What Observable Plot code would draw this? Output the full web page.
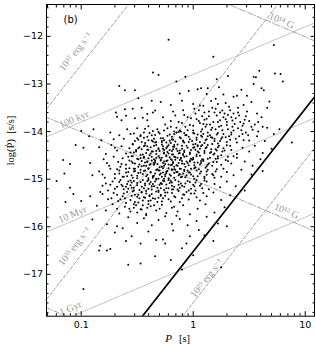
<!DOCTYPE html>
<html><head><meta charset="utf-8">
<script src="https://cdn.jsdelivr.net/npm/d3@7"></script>
<script src="https://cdn.jsdelivr.net/npm/@observablehq/plot@0.6"></script>
<style>body{margin:0;background:#fff}svg{display:block}</style>
</head><body><div id="chart"></div>
<script>
// pulsars: [log10 P (s), log10 Pdot (s/s)]
const pulsarsOuter = [
[-0.22,-12.07],[0.72,-12.18],[0.18,-12.43],
[0.59,-12.72],[0.73,-12.78],[0.78,-12.79],[0.80,-12.95],[0.54,-12.85],[0.56,-12.86],[0.31,-12.83],[0.21,-12.90],[-0.07,-12.85],[-0.15,-12.95],[-0.36,-12.76],[-0.31,-12.81],
[-0.66,-13.04],[-0.61,-13.13],[-0.52,-13.13],[0.61,-13.09],[0.63,-13.13],[0.54,-13.00],[0.36,-13.27],[0.39,-13.25],[0.48,-13.25],[0.04,-13.11],[0.07,-13.09],[0.13,-13.09],[0.12,-13.21],[-0.04,-13.15],[0.68,-13.37],[0.66,-13.50],[0.23,-13.07],[0.20,-13.31],[-0.10,-13.35],[0.00,-13.42],[0.09,-13.46],[0.29,-13.40],[0.45,-13.44],[-0.20,-13.44],[-0.29,-13.38],[0.52,-13.38],[-0.49,-13.30],[-0.37,-13.35],[0.27,-13.22],[-0.12,-13.20],[0.16,-13.36],[0.43,-13.12],
[-0.69,-13.60],[-0.61,-13.53],[-0.54,-13.52],[-0.46,-13.50],[-0.68,-13.69],[-0.60,-13.67],[-0.52,-13.72],[-0.41,-13.63],[-0.34,-13.56],[-0.36,-13.60],[-0.45,-13.71],[-0.41,-13.76],[-0.64,-13.76],
[-0.89,-13.95],[-1.00,-13.99],[-0.59,-13.95],[-0.50,-13.93],[-0.43,-13.94],[-0.40,-13.89],[-0.36,-13.99],[-0.32,-13.95],[-0.25,-13.85],[-0.20,-13.78],[-0.15,-13.92],[-0.10,-13.82],[-0.05,-13.97],[0.00,-13.88],[0.03,-13.74],[0.08,-13.95],[0.12,-13.85],[0.17,-13.92],[0.22,-13.80],[0.26,-13.97],[0.30,-13.86],[0.35,-13.77],[0.40,-13.93],[0.45,-13.83],[0.52,-13.90],[0.58,-13.80],[0.66,-13.92],[0.77,-13.95],
[-0.18,-13.58],[-0.08,-13.65],[0.05,-13.55],[0.14,-13.68],[0.24,-13.60],[0.33,-13.55],[0.41,-13.66],[0.48,-13.58],[0.57,-13.62],[-0.27,-13.70],[0.10,-13.75],[-0.02,-13.72],[0.20,-13.52],[0.38,-13.72],[0.61,-13.70],[-0.23,-13.93],[-0.12,-13.98],[0.06,-13.82],[0.29,-13.74],
[-1.05,-14.28],[-0.93,-14.10],[-0.82,-14.18],[-0.74,-14.02],[-0.71,-14.16],[-0.62,-14.15],[-0.56,-14.05],[-0.52,-14.20],[-0.47,-14.10],[-0.44,-14.02],[-0.40,-14.18],[-0.37,-14.08],[-0.33,-14.22],[-0.30,-14.04],[-0.27,-14.14],[-0.24,-14.23],[-0.21,-14.06],[-0.18,-14.17],[-0.15,-14.02],[-0.12,-14.12],[-0.09,-14.21],[-0.06,-14.07],[-0.03,-14.16],[0.00,-14.03],[0.03,-14.13],[0.06,-14.22],[0.09,-14.05],[0.12,-14.16],[0.15,-14.08],[0.19,-14.20],[0.22,-14.03],[0.26,-14.12],[0.30,-14.22],[0.34,-14.06],[0.38,-14.15],[0.44,-14.05],[0.50,-14.19],[0.57,-14.10],[0.64,-14.20],[0.72,-14.05],[0.88,-14.23],
[-0.66,-14.08],[-0.50,-14.14],[-0.35,-14.15],[-0.19,-14.11],[-0.01,-14.20],[0.17,-14.13],[0.32,-14.10],[0.47,-14.02],[-0.28,-14.20],[-0.08,-14.03],[0.08,-14.11],[0.24,-14.20],
[-0.98,-14.34],[-0.84,-14.33],[-0.78,-14.47],[-0.73,-14.28],[-0.68,-14.40],[-0.64,-14.31],[-0.60,-14.46],[-0.57,-14.35],[-0.54,-14.27],[-0.51,-14.42],[-0.48,-14.33],[-0.45,-14.48],[-0.43,-14.29],[-0.40,-14.38],[-0.38,-14.46],[-0.35,-14.30],[-0.33,-14.41],[-0.31,-14.35],[-0.28,-14.27],[-0.26,-14.44],[-0.23,-14.32],[-0.21,-14.39],[-0.19,-14.48],[-0.17,-14.28],[-0.15,-14.36],[-0.12,-14.45],[-0.10,-14.30],[-0.08,-14.40],[-0.05,-14.34],[-0.03,-14.47],[0.00,-14.27],[0.02,-14.38],[0.05,-14.44],[0.07,-14.31],[0.10,-14.41],[0.13,-14.28],[0.16,-14.37],[0.19,-14.46],[0.22,-14.33],[0.26,-14.42],[0.30,-14.29],[0.34,-14.39],[0.39,-14.47],[0.44,-14.34],[0.50,-14.42],[0.55,-14.30],[0.62,-14.45],[0.70,-14.36],
[-0.70,-14.34],[-0.56,-14.44],[-0.46,-14.37],[-0.36,-14.42],[-0.27,-14.36],[-0.18,-14.32],[-0.09,-14.47],[0.01,-14.33],[0.11,-14.35],[0.21,-14.40],[-0.41,-14.31],[-0.22,-14.46],[-0.14,-14.41],[0.04,-14.29],[0.15,-14.45],[0.27,-14.35],
[-1.16,-14.60],[-1.10,-14.68],[-0.92,-14.66],[-0.80,-14.58],[-0.75,-14.72],[-0.71,-14.53],[-0.67,-14.64],[-0.63,-14.56],[-0.60,-14.70],[-0.57,-14.61],[-0.54,-14.52],[-0.52,-14.67],[-0.49,-14.58],[-0.46,-14.73],[-0.44,-14.55],[-0.41,-14.64],[-0.39,-14.70],[-0.37,-14.53],[-0.34,-14.61],[-0.32,-14.68],[-0.30,-14.55],[-0.28,-14.74],[-0.26,-14.63],[-0.24,-14.52],[-0.22,-14.69],[-0.20,-14.58],[-0.18,-14.66],[-0.16,-14.54],[-0.14,-14.72],[-0.12,-14.60],[-0.10,-14.67],[-0.08,-14.53],[-0.06,-14.63],[-0.04,-14.71],[-0.02,-14.57],[0.01,-14.65],[0.03,-14.52],[0.06,-14.69],[0.09,-14.59],[0.12,-14.73],[0.15,-14.55],[0.18,-14.64],[0.22,-14.52],[0.25,-14.70],[0.29,-14.60],[0.34,-14.67],[0.39,-14.55],[0.46,-14.63],[0.53,-14.72],[0.60,-14.58],
[-0.77,-14.66],[-0.65,-14.74],[-0.55,-14.63],[-0.47,-14.56],[-0.42,-14.72],[-0.35,-14.66],[-0.29,-14.59],[-0.23,-14.61],[-0.17,-14.74],[-0.11,-14.55],[-0.05,-14.66],[0.00,-14.58],[0.07,-14.62],[0.14,-14.67],[0.20,-14.57],[0.31,-14.53],[-0.58,-14.53],[-0.33,-14.55],[-0.19,-14.70],[-0.03,-14.61],
[-1.15,-14.88],[-0.90,-14.92],[-0.84,-14.84],[-0.79,-14.97],[-0.74,-14.78],[-0.70,-14.89],[-0.66,-14.82],[-0.63,-14.95],[-0.60,-14.86],[-0.57,-14.77],[-0.55,-14.92],[-0.52,-14.83],[-0.50,-14.98],[-0.47,-14.80],[-0.45,-14.89],[-0.42,-14.94],[-0.40,-14.78],[-0.38,-14.86],[-0.35,-14.93],[-0.33,-14.81],[-0.31,-14.99],[-0.29,-14.88],[-0.27,-14.77],[-0.25,-14.94],[-0.23,-14.83],[-0.21,-14.90],[-0.19,-14.79],[-0.17,-14.97],[-0.15,-14.85],[-0.13,-14.92],[-0.11,-14.78],[-0.09,-14.88],[-0.07,-14.96],[-0.05,-14.82],[-0.02,-14.90],[0.01,-14.77],[0.04,-14.94],[0.07,-14.84],[0.10,-14.98],[0.13,-14.80],[0.17,-14.89],[0.21,-14.79],[0.25,-14.95],[0.30,-14.85],[0.36,-14.92],[0.43,-14.80],[0.52,-14.90],[0.62,-14.83],
[-0.81,-14.90],[-0.68,-14.79],[-0.59,-14.94],[-0.49,-14.87],[-0.43,-14.82],[-0.36,-14.97],[-0.30,-14.82],[-0.24,-14.87],[-0.16,-14.80],[-0.10,-14.95],[-0.03,-14.86],[0.05,-14.79],[0.12,-14.91],[0.19,-14.97],[-0.53,-14.78],[-0.26,-14.99],[-0.08,-14.80],[0.27,-14.78],
[-1.22,-15.04],[-1.10,-15.18],[-0.81,-15.14],[-0.76,-15.24],[-0.72,-15.05],[-0.68,-15.16],[-0.65,-15.02],[-0.62,-15.21],[-0.59,-15.10],[-0.56,-15.03],[-0.53,-15.18],[-0.50,-15.08],[-0.48,-15.23],[-0.45,-15.02],[-0.43,-15.13],[-0.40,-15.20],[-0.38,-15.06],[-0.35,-15.15],[-0.33,-15.01],[-0.31,-15.24],[-0.28,-15.10],[-0.26,-15.04],[-0.24,-15.19],[-0.21,-15.08],[-0.19,-15.14],[-0.16,-15.02],[-0.14,-15.22],[-0.11,-15.09],[-0.08,-15.16],[-0.05,-15.04],[-0.02,-15.20],[0.02,-15.07],[0.06,-15.14],[0.10,-15.03],[0.14,-15.21],[0.19,-15.10],[0.24,-15.17],[0.30,-15.05],[0.38,-15.15],[0.46,-15.24],
[-0.78,-15.09],[-0.64,-15.12],[-0.55,-15.07],[-0.46,-15.16],[-0.36,-15.10],[-0.29,-15.19],[-0.22,-15.02],[-0.13,-15.12],[-0.04,-15.24],[0.08,-15.19],[-0.60,-15.16],[-0.41,-15.04],[-0.18,-15.21],[0.00,-15.12],
[-1.14,-15.48],[-1.07,-15.31],[-1.00,-15.46],[-0.92,-15.36],[-0.83,-15.27],[-0.81,-15.31],[-0.76,-15.42],[-0.71,-15.29],[-0.67,-15.46],[-0.63,-15.36],[-0.59,-15.27],[-0.56,-15.44],[-0.52,-15.33],[-0.49,-15.49],[-0.46,-15.28],[-0.43,-15.39],[-0.40,-15.46],[-0.37,-15.31],[-0.34,-15.41],[-0.31,-15.27],[-0.28,-15.47],[-0.25,-15.35],[-0.22,-15.42],[-0.19,-15.29],[-0.16,-15.38],[-0.12,-15.48],[-0.08,-15.33],[-0.04,-15.43],[0.01,-15.30],[0.06,-15.45],[0.12,-15.36],[0.18,-15.28],[0.25,-15.44],[0.33,-15.34],
[-0.61,-15.40],[-0.50,-15.37],[-0.39,-15.36],[-0.29,-15.33],[-0.20,-15.47],[-0.10,-15.40],[0.03,-15.38],[-0.54,-15.26],[-0.45,-15.45],
[-0.86,-15.56],[-0.78,-15.66],[-0.72,-15.53],[-0.66,-15.72],[-0.61,-15.58],[-0.56,-15.68],[-0.51,-15.55],[-0.46,-15.64],[-0.42,-15.73],[-0.38,-15.57],[-0.33,-15.66],[-0.28,-15.54],[-0.24,-15.71],[-0.19,-15.60],[-0.14,-15.68],[-0.09,-15.55],[-0.03,-15.74],[0.04,-15.62],[0.11,-15.53],[0.19,-15.70],[0.28,-15.59],
[-0.53,-15.60],[-0.40,-15.52],[-0.30,-15.62],[-0.17,-15.58],[-0.68,-15.62],
[-0.90,-15.85],[-0.77,-15.95],[-0.68,-15.99],[-0.63,-16.03],[-0.58,-15.80],[-0.50,-15.92],[-0.44,-15.82],[-0.37,-15.97],[-0.31,-15.86],[-0.25,-15.78],[-0.19,-15.94],[-0.12,-15.84],[-0.05,-15.97],[0.03,-15.88],[0.12,-15.79],[0.22,-15.93],[0.30,-15.99],[-0.42,-15.76],[-0.15,-15.77],
[-0.83,-16.40],[-0.84,-16.50],[-0.77,-16.50],[-0.74,-16.47],[-0.70,-16.12],[-0.55,-16.20],[-0.47,-16.35],[-0.40,-16.10],[-0.33,-16.28],[-0.27,-16.27],[-0.25,-16.35],[-0.18,-16.08],[-0.06,-16.35],[-0.03,-16.20],[0.10,-16.18],[-0.10,-16.45],[0.05,-16.07],[-0.60,-16.30],[0.18,-16.30],
[-0.58,-16.80],[-0.47,-16.77],[-0.34,-16.62],[-0.20,-16.70],[0.00,-16.60],[-0.98,-17.31],[0.25,-16.85],[-0.10,-16.90]
];
const pulsarsCore = [
[-0.53,-14.04],[-0.49,-14.17],[-0.47,-14.08],[-0.44,-14.13],[-0.39,-14.03],[-0.37,-14.19],[-0.41,-14.11],[-0.34,-14.07],[-0.29,-14.14],[-0.31,-14.01],[-0.26,-14.18],[-0.23,-14.09],[-0.19,-14.16],[-0.17,-14.05],[-0.21,-14.19],[-0.13,-14.01],[-0.11,-14.14],[-0.07,-14.08],[-0.09,-14.19],[-0.04,-14.11],[0.01,-14.04],[0.03,-14.17],[0.07,-14.09],[0.11,-14.18],[0.13,-14.02],[0.16,-14.12],[0.21,-14.06],
[-0.54,-14.26],[-0.49,-14.35],[-0.46,-14.22],[-0.51,-14.39],[-0.43,-14.24],[-0.38,-14.33],[-0.41,-14.38],[-0.36,-14.21],[-0.44,-14.31],[-0.33,-14.28],[-0.28,-14.22],[-0.31,-14.37],[-0.27,-14.31],[-0.34,-14.23],[-0.26,-14.39],[-0.24,-14.35],[-0.20,-14.24],[-0.18,-14.37],[-0.22,-14.29],[-0.16,-14.21],[-0.17,-14.32],[-0.14,-14.27],[-0.10,-14.36],[-0.08,-14.23],[-0.12,-14.40],[-0.06,-14.30],[-0.04,-14.22],[0.00,-14.34],[0.02,-14.26],[-0.02,-14.39],[0.04,-14.31],[0.06,-14.36],[0.10,-14.24],[0.12,-14.33],[0.08,-14.28],[0.17,-14.26],[0.20,-14.37],[0.23,-14.30],
[-0.53,-14.44],[-0.50,-14.57],[-0.47,-14.49],[-0.55,-14.52],[-0.42,-14.45],[-0.40,-14.56],[-0.37,-14.42],[-0.44,-14.53],[-0.39,-14.50],[-0.33,-14.47],[-0.30,-14.41],[-0.28,-14.55],[-0.35,-14.58],[-0.26,-14.46],[-0.31,-14.52],[-0.23,-14.43],[-0.21,-14.54],[-0.18,-14.48],[-0.16,-14.59],[-0.24,-14.50],[-0.19,-14.41],[-0.17,-14.53],[-0.13,-14.46],[-0.11,-14.57],[-0.08,-14.43],[-0.06,-14.52],[-0.14,-14.55],[-0.09,-14.49],[-0.03,-14.44],[0.00,-14.55],[0.03,-14.48],[-0.01,-14.59],[0.04,-14.42],[0.06,-14.51],[0.10,-14.45],[0.13,-14.57],[0.08,-14.58],[0.18,-14.48],[0.22,-14.56],[0.16,-14.43],
[-0.54,-14.66],[-0.49,-14.74],[-0.46,-14.62],[-0.52,-14.78],[-0.48,-14.69],[-0.43,-14.65],[-0.40,-14.77],[-0.37,-14.61],[-0.44,-14.72],[-0.38,-14.68],[-0.41,-14.63],[-0.34,-14.64],[-0.30,-14.75],[-0.27,-14.66],[-0.32,-14.79],[-0.29,-14.61],[-0.26,-14.72],[-0.35,-14.70],[-0.24,-14.62],[-0.20,-14.71],[-0.18,-14.64],[-0.22,-14.77],[-0.17,-14.79],[-0.25,-14.68],[-0.19,-14.60],[-0.13,-14.66],[-0.10,-14.62],[-0.07,-14.74],[-0.12,-14.78],[-0.08,-14.68],[-0.15,-14.71],[-0.03,-14.63],[0.01,-14.71],[-0.02,-14.78],[0.04,-14.65],[0.02,-14.75],[0.07,-14.66],[0.11,-14.76],[0.09,-14.62],[0.13,-14.70],[0.17,-14.72],[0.21,-14.64],
[-0.53,-14.84],[-0.50,-14.93],[-0.47,-14.86],[-0.54,-14.97],[-0.44,-14.83],[-0.41,-14.91],[-0.38,-14.85],[-0.40,-14.98],[-0.36,-14.94],[-0.34,-14.88],[-0.31,-14.82],[-0.28,-14.95],[-0.33,-14.99],[-0.27,-14.86],[-0.30,-14.91],[-0.24,-14.84],[-0.20,-14.93],[-0.22,-14.98],[-0.17,-14.87],[-0.19,-14.81],[-0.25,-14.90],[-0.14,-14.85],[-0.11,-14.96],[-0.08,-14.83],[-0.12,-14.89],[-0.06,-14.92],[-0.04,-14.86],[0.00,-14.94],[0.03,-14.82],[0.01,-14.99],[0.06,-14.88],[0.10,-14.95],[0.12,-14.84],[0.18,-14.92],[0.20,-14.84],
[-0.53,-15.04],[-0.50,-15.13],[-0.55,-15.18],[-0.47,-15.06],[-0.43,-15.09],[-0.40,-15.02],[-0.37,-15.15],[-0.44,-15.19],[-0.39,-15.10],[-0.34,-15.05],[-0.30,-15.12],[-0.27,-15.03],[-0.32,-15.18],[-0.29,-15.08],[-0.24,-15.11],[-0.20,-15.04],[-0.17,-15.16],[-0.22,-15.19],[-0.19,-15.07],[-0.13,-15.05],[-0.10,-15.14],[-0.07,-15.09],[-0.12,-15.18],[-0.03,-15.06],[0.01,-15.15],[0.03,-15.02],[0.07,-15.10],[0.12,-15.05],
[-0.53,-15.24],[-0.49,-15.33],[-0.46,-15.27],[-0.42,-15.25],[-0.39,-15.34],[-0.44,-15.38],[-0.37,-15.22],[-0.33,-15.26],[-0.29,-15.35],[-0.26,-15.23],[-0.31,-15.39],[-0.23,-15.28],[-0.19,-15.22],[-0.17,-15.36],[-0.13,-15.25],[-0.09,-15.32],[-0.06,-15.27],[-0.02,-15.30],[0.02,-15.24],[0.09,-15.29]
];
// upper-right arm of the cloud (long periods, high Pdot)
const pulsarsUpper = [
[0.02,-13.62],[0.05,-13.78],[0.08,-13.68],[0.11,-13.90],[0.14,-13.58],[0.18,-13.80],[0.21,-13.66],[0.25,-13.88],[0.28,-13.62],[0.31,-13.95],[0.34,-13.70],[0.37,-13.84],[0.40,-13.60],[0.43,-13.97],[0.46,-13.75],
[0.00,-13.98],[0.04,-14.06],[0.09,-13.84],[0.13,-14.10],[0.16,-13.96],[0.19,-14.15],[0.23,-13.90],[0.27,-14.05],[0.30,-13.80],[0.33,-14.17],[0.36,-13.98],[0.41,-14.10],[0.44,-13.88],[0.49,-14.08],[0.53,-13.96],
[-0.05,-13.70],[-0.09,-13.55],[-0.13,-13.80],[-0.16,-13.66],[-0.03,-13.86],[0.06,-13.45],[0.10,-13.60],[0.17,-13.50],[0.22,-13.42],[0.26,-13.56],[0.32,-13.48],[0.36,-13.62],[0.40,-13.50],[0.47,-13.68],[0.55,-13.85],
[0.01,-13.52],[0.12,-13.73],[0.20,-13.95],[0.24,-13.76],[0.29,-14.12],[0.35,-13.90],[0.39,-14.23],[0.45,-14.18],[0.50,-13.78],[0.58,-14.00],[0.62,-13.90],[0.15,-13.85],[0.27,-13.70],[0.07,-14.00],[-0.07,-13.90],[-0.11,-14.00],[0.19,-13.60],[0.31,-13.65],[0.42,-13.80],[0.25,-14.15],[0.34,-14.02],[-0.20,-13.90],[-0.26,-13.98],[-0.17,-14.00],[0.22,-14.25],[0.28,-14.40],[0.33,-14.30],[0.36,-14.52],[0.25,-14.50],[0.31,-14.62]
];
// lower-left arm of the cloud (short periods, low Pdot)
const pulsarsLower = [
[-0.66,-15.06],[-0.62,-15.30],[-0.58,-15.20],[-0.70,-15.20],[-0.65,-15.42],[-0.60,-15.50],[-0.55,-15.35],[-0.52,-15.48],[-0.48,-15.40],[-0.45,-15.55],[-0.42,-15.30],[-0.38,-15.45],[-0.35,-15.55],[-0.57,-15.62],[-0.50,-15.70],[-0.63,-15.15],[-0.68,-15.33],[-0.73,-15.40],[-0.58,-15.05],[-0.62,-14.95],[-0.66,-14.88],[-0.70,-14.98],[-0.60,-14.78],[-0.64,-14.68],[-0.58,-14.85],[-0.56,-15.13],[-0.47,-15.63],[-0.41,-15.60],[-0.53,-15.53],[-0.74,-15.12],[-0.36,-15.40],[-0.32,-15.48],[-0.27,-15.40],[-0.25,-15.28]
];
const pulsars = pulsarsOuter.concat(pulsarsCore, pulsarsUpper, pulsarsLower);

// reference lines
const edotLevels = [37, 33, 29];          // log10 spin-down luminosity, erg/s
const ageLevels = [1e5, 1e7, 1e9];        // characteristic age, yr
const bLevels = [14, 12, 10];             // log10 surface field, G
const deathLine = {slope: 3, intercept: -16.52};
const lineSpan = [-1.4, 1.2];             // log10 P range the lines are drawn over

// annotations
const labelText = ["10³⁷ erg s⁻¹", "100 kyr", "10 Myr", "10³³ erg s⁻¹", "1 Gyr", "10¹⁴ G", "10¹² G", "10²⁹ erg s⁻¹"];
const labelLogP = [-1.051, -1.064, -1.078, -1.06, -1.096, 0.789, 0.833, 0.12];
const labelLogPdot = [-12.32, -13.74, -15.74, -16.41, -17.71, -11.67, -15.67, -17.08];
const labelAngle = [-51.8, -23, -23, -51.8, -23, 23, 23, -51.8];

// axes
const xDomain = [0.049, 12.1];
const yDomain = [-17.88, -11.33];
const xMajor = [0.1, 1, 10];
const xMinor = [0.05,0.06,0.07,0.08,0.09,0.2,0.3,0.4,0.5,0.6,0.7,0.8,0.9,2,3,4,5,6,7,8,9];
const yMajor = [-17, -16, -15, -14, -13, -12];
const yMinor = d3.range(-17.8, -11.3, 0.2).map(v => +v.toFixed(1)).filter(v => !Number.isInteger(v));

const logI = Math.log10(4 * Math.PI * Math.PI * 1e45);
const yrSec = 3.156e7;
const rows = [];
for (const e of edotLevels) for (const lp of lineSpan) rows.push({fam: "edot", k: "e" + e, P: 10 ** lp, v: e - logI + 3 * lp});
for (const t of ageLevels) for (const lp of lineSpan) rows.push({fam: "age", k: "t" + t, P: 10 ** lp, v: lp - Math.log10(2 * t * yrSec)});
for (const b of bLevels) for (const lp of lineSpan) rows.push({fam: "b", k: "b" + b, P: 10 ** lp, v: 2 * (b - Math.log10(3.2e19)) - lp});
const deathRows = lineSpan.map(lp => ({P: 10 ** lp, v: deathLine.slope * lp + deathLine.intercept}));
const labels = labelText.map((t, i) => ({t, P: 10 ** labelLogP[i], v: labelLogPdot[i], a: labelAngle[i]}));
const fmtY = d => (d < 0 ? "\u2212" + Math.abs(d) : String(d));

const grey = "#8c8c8c";
const serif = "Liberation Serif, DejaVu Serif, serif";

const chart = Plot.plot({
  width: 316, height: 354,
  marginLeft: 46, marginRight: 2, marginTop: 4, marginBottom: 38.3,
  style: {fontFamily: "DejaVu Sans, sans-serif", fontSize: "9.5px", background: "white", color: "black"},
  x: {type: "log", domain: xDomain},
  y: {domain: yDomain},
  marks: [
    Plot.line(rows.filter(d => d.fam === "edot"), {x: "P", y: "v", z: "k", stroke: grey, strokeWidth: 0.8, strokeDasharray: "3.5,2", clip: true}),
    Plot.line(rows.filter(d => d.fam === "age"), {x: "P", y: "v", z: "k", stroke: "#aaaaaa", strokeWidth: 0.9, strokeDasharray: "1,1.3", clip: true}),
    Plot.line(rows.filter(d => d.fam === "b"), {x: "P", y: "v", z: "k", stroke: grey, strokeWidth: 0.8, strokeDasharray: "5,1.8,1,1.8", clip: true}),
    Plot.line(deathRows, {x: "P", y: "v", stroke: "black", strokeWidth: 1.7, clip: true}),
    Plot.dot(pulsars, {x: d => 10 ** d[0], y: d => d[1], r: 1, fill: "black", stroke: null}),
    Plot.text(labels, {x: "P", y: "v", text: "t", rotate: "a", fill: "#9a9a9a", fontFamily: serif, fontSize: 10, textAnchor: "middle", lineAnchor: "middle"}),
    Plot.frame({stroke: "black", strokeWidth: 1}),
    // ticks (inward, all four sides)
    Plot.axisX(xMajor, {anchor: "bottom", tickSize: -4.5, fill: "none", label: null}),
    Plot.axisX(xMinor, {anchor: "bottom", tickSize: -2.5, fill: "none", label: null}),
    Plot.axisX(xMajor, {anchor: "top", tickSize: -4.5, fill: "none", label: null}),
    Plot.axisX(xMinor, {anchor: "top", tickSize: -2.5, fill: "none", label: null}),
    Plot.axisY(yMajor, {anchor: "left", tickSize: -4.5, fill: "none", label: null}),
    Plot.axisY(yMinor, {anchor: "left", tickSize: -2.5, fill: "none", label: null}),
    Plot.axisY(yMajor, {anchor: "right", tickSize: -4.5, fill: "none", label: null}),
    Plot.axisY(yMinor, {anchor: "right", tickSize: -2.5, fill: "none", label: null}),
    // tick labels
    Plot.axisX(xMajor, {anchor: "bottom", tickSize: 0, tickPadding: 5, tickFormat: d => String(d), label: null}),
    Plot.axisY(yMajor, {anchor: "left", tickSize: 0, tickPadding: 3.5, tickFormat: fmtY, label: null}),
    // axis titles and panel tag
    Plot.text(["P"], {frameAnchor: "bottom", dx: -12, dy: 26, fontFamily: serif, fontStyle: "italic", fontSize: 11}),
    Plot.text(["[s]"], {frameAnchor: "bottom", dx: 4, dy: 26, fontFamily: serif, fontSize: 10.5}),
    Plot.text(["log(Ṗ)  [s/s]"], {frameAnchor: "left", dx: -36, dy: 5, rotate: -90, fontFamily: serif, fontSize: 10.5}),
    Plot.text(["(b)"], {frameAnchor: "top-left", dx: 17, dy: 11, fontSize: 10})
  ]
});
document.getElementById("chart").append(chart);
</script>
</body></html>
